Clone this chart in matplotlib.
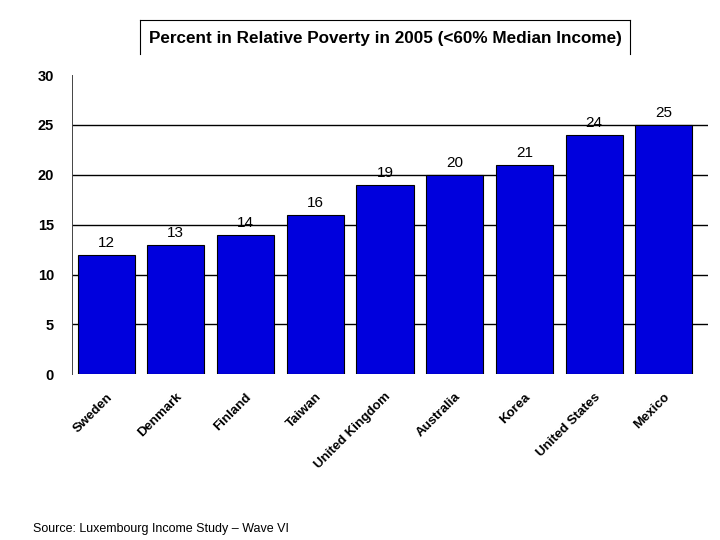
import matplotlib
matplotlib.use("Agg")
import matplotlib.pyplot as plt
from matplotlib.lines import Line2D

countries = ["Sweden", "Denmark", "Finland", "Taiwan", "United Kingdom",
             "Australia", "Korea", "United States", "Mexico"]
values = [12, 13, 14, 16, 19, 20, 21, 24, 25]
yticks = [0, 5, 10, 15, 20, 25, 30]
gridlines = [5, 10, 15, 20, 25]

plt.rcParams['font.family'] = ['Liberation Sans', 'DejaVu Sans']

fig = plt.figure(figsize=(7.2, 5.4), dpi=100)
ax = fig.add_axes([0.1, 0.307, 0.883, 0.554])
x = list(range(len(countries)))
ax.bar(x, values, width=0.82, color='#0000DD', edgecolor='black', linewidth=0.8, zorder=3)
for xi, v in zip(x, values):
    ax.text(xi, v + 0.5, str(v), ha='center', va='bottom', fontsize=11, zorder=4)
for g in gridlines:
    ax.axhline(g, color='black', linewidth=1, zorder=0)
ax.set_xlim(-0.49, 8.63)
ax.set_ylim(0, 30)
ax.set_yticks(yticks)
ax.set_yticklabels([str(t) for t in yticks], fontweight='bold', fontsize=10.5)
ax.tick_params(axis='y', length=0, pad=13)
ax.tick_params(axis='x', length=0, pad=12)
ax.set_xticks(x)
ax.set_xticklabels(countries, rotation=45, ha='right', rotation_mode='anchor',
                   fontweight='bold', fontsize=9.5)
for s in ['top', 'right', 'bottom']:
    ax.spines[s].set_visible(False)
ax.spines['left'].set_linewidth(0.7)
ax.spines['left'].set_color('#444444')

# Title box (open at bottom)
x0, x1, y0, y1 = 140/720, 630/720, 1-54/540, 1-20/540
for xs, ys in [([x0, x0], [y0, y1]), ([x0, x1], [y1, y1]), ([x1, x1], [y1, y0])]:
    fig.add_artist(Line2D(xs, ys, color='black', linewidth=0.8, transform=fig.transFigure))
fig.text((x0 + x1) / 2, 1 - 39/540, "Percent in Relative Poverty in 2005 (<60% Median Income)",
         ha='center', va='center', fontsize=12.3, fontweight='bold')

fig.text(33/720, 1 - 529/540, "Source: Luxembourg Income Study \u2013 Wave VI",
         ha='left', va='center', fontsize=9)

fig.savefig("out.png", dpi=100)
